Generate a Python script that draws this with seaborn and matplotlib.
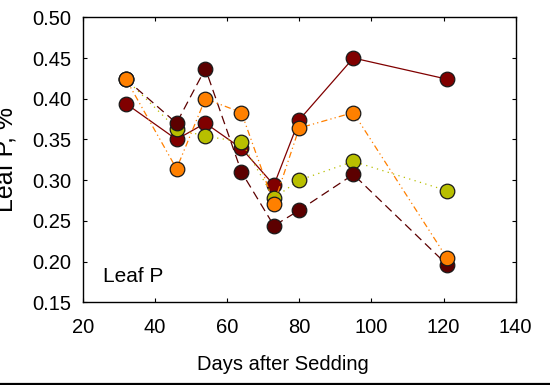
import matplotlib
matplotlib.use("Agg")
import matplotlib.pyplot as plt
import seaborn as sns
import pandas as pd
from matplotlib.lines import Line2D

days = [32, 46, 54, 64, 73, 80, 95, 121]
series_names = ["S1", "S2", "S3", "S4"]
s1 = [0.394, 0.350, 0.370, 0.339, 0.294, 0.374, 0.450, 0.424]
s2 = [0.424, 0.363, 0.354, 0.347, 0.278, 0.300, 0.323, 0.287]
s3 = [0.424, 0.370, 0.437, 0.310, 0.244, 0.263, 0.307, 0.196]
s4 = [0.424, 0.314, 0.400, 0.383, 0.271, 0.364, 0.383, 0.204]
x_ticks = [20, 40, 60, 80, 100, 120, 140]
y_ticks = [0.15, 0.20, 0.25, 0.30, 0.35, 0.40, 0.45, 0.50]

colors = {"S1": "#800000", "S2": "#b8bf00", "S3": "#5c0000", "S4": "#ff8000"}
dashes = {"S1": "", "S2": (1, 3.5), "S3": (7, 4), "S4": (5, 2.5, 1, 2.5, 1, 2.5)}

rows = []
for name, vals in zip(series_names, [s1, s2, s3, s4]):
    for d, v in zip(days, vals):
        rows.append({"days": d, "value": v, "series": name})
df = pd.DataFrame(rows)

sns.set_theme(style="ticks")
plt.rcParams["font.family"] = ["Liberation Sans", "DejaVu Sans"]
plt.rcParams["text.color"] = "black"
plt.rcParams["axes.labelcolor"] = "black"
plt.rcParams["xtick.color"] = "black"
plt.rcParams["ytick.color"] = "black"

fig = plt.figure(figsize=(5.5, 3.85), dpi=100)
ax = fig.add_axes([82.7 / 550, 1 - 302.3 / 385, (515.7 - 82.7) / 550, (302.3 - 17.3) / 385])

sns.lineplot(data=df, x="days", y="value", hue="series", style="series",
             hue_order=series_names, style_order=series_names,
             palette=colors, dashes=dashes, markers={n: "o" for n in series_names},
             markersize=10.5, markeredgecolor="#1a1a1a", markeredgewidth=0.9,
             linewidth=0.9, legend=False, ax=ax, sort=False)

ax.set_xlim(20, 140)
ax.set_ylim(0.15, 0.50)
ax.set_xticks(x_ticks)
ax.set_yticks(y_ticks)
ax.set_xticklabels([str(t) for t in x_ticks])
ax.set_yticklabels([f"{t:.2f}" for t in y_ticks])
ax.tick_params(direction="in", length=3, width=0.8, top=True, right=True,
               labeltop=False, labelright=False, labelsize=14.5,
               colors="black", labelcolor="black")
ax.tick_params(axis="x", pad=11)
ax.tick_params(axis="y", pad=8)
for sp in ax.spines.values():
    sp.set_visible(True)
    sp.set_color("black")
    sp.set_linewidth(1.0)
ax.set_xlabel("")
ax.set_ylabel("")

fig.text(283 / 550, 1 - 370 / 385, "Days after Sedding", ha="center", va="baseline",
         fontsize=14.5, color="black")
fig.text(13 / 550, 1 - 159 / 385, "Leaf P, %", rotation=90, rotation_mode="anchor",
         ha="center", va="baseline", fontsize=18, color="black")
ax.text(103 / 550, 1 - 281.7 / 385, "Leaf P", transform=fig.transFigure,
        ha="left", va="baseline", fontsize=15, color="black")

fig.add_artist(Line2D([0, 1], [1 / 385, 1 / 385], transform=fig.transFigure,
                      color="black", linewidth=1.6))

fig.savefig("out.png", dpi=100)
